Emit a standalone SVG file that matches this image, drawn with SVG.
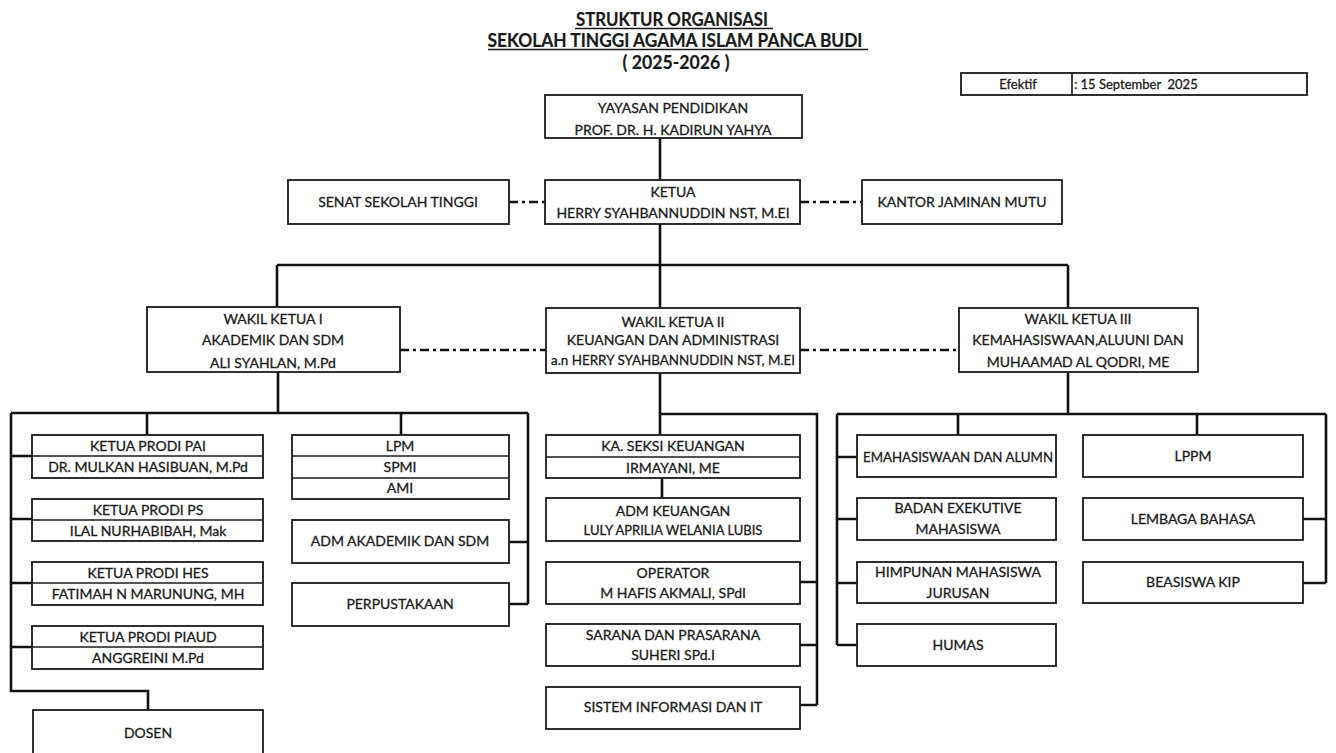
<svg xmlns="http://www.w3.org/2000/svg" width="1336" height="753" viewBox="0 0 1336 753">
<style>
text{font-family:Lato,"Liberation Sans",sans-serif;fill:#1a1a1a;stroke:#1a1a1a;stroke-width:0.3;font-size:14px;text-anchor:middle}
.t{font-weight:bold;font-size:18px;stroke-width:0.2}
.s{font-size:13px}
.box{fill:#fff;stroke:#1a1a1a;stroke-width:1.8}
.div{stroke:#1a1a1a;stroke-width:1.6}
.c{fill:none;stroke:#111;stroke-width:2.6}
.dd{fill:none;stroke:#111;stroke-width:2.6;stroke-dasharray:9 4 3 4}
.ul{stroke:#1a1a1a;stroke-width:1.5}
</style>
<rect width="1336" height="753" fill="#fff"/>
<g id="title">
<text class="t" x="672" y="26" textLength="192" lengthAdjust="spacingAndGlyphs">STRUKTUR ORGANISASI</text>
<line class="ul" x1="575" y1="28.5" x2="773" y2="28.5"/>
<text class="t" x="675" y="47" textLength="375" lengthAdjust="spacingAndGlyphs">SEKOLAH TINGGI AGAMA ISLAM PANCA BUDI</text>
<line class="ul" x1="488" y1="49.5" x2="868" y2="49.5"/>
<text class="t" x="676" y="69" textLength="107" lengthAdjust="spacingAndGlyphs" style="white-space:pre">( 2025-2026 )</text>
</g>
<g id="efektif">
<rect class="box" x="961" y="73" width="346" height="22"/>
<line class="div" x1="1072" y1="73" x2="1072" y2="95"/>
<text class="s" x="1018" y="89">Efektif</text>
<text class="s" x="1074" y="89" style="text-anchor:start;white-space:pre">: 15 September  2025</text>
</g>
<g id="connectors">
<path class="c" d="M660 138V180M660 224V308M277 265H1068M277 265V307M1068 265V308"/>
<path class="dd" d="M509 202H545M800 202H862M400 350H546M800 350H959"/>
<path class="c" d="M278 372V413M11 413H528M147 413V435M401 413V435M528 413V604M509 542H528M509 604H528M11 413V691H148V710M11 456H32M11 519H32M11 583H32M11 647H32"/>
<path class="c" d="M660 373V435M660 414H817V705M800 582H817M800 645H817M800 705H817M662 478V498"/>
<path class="c" d="M1068 372V414M837 414H1326M837 414V645M837 457H857M837 519H857M837 583H857M837 645H857M958 414V435M1197 414V435M1326 414V583M1303 519H1326M1303 583H1326"/>
</g>
<g id="yayasan">
<rect class="box" x="545" y="95" width="257" height="43"/>
<text x="673" y="113">YAYASAN PENDIDIKAN</text>
<text x="673" y="135">PROF. DR. H. KADIRUN YAHYA</text>
</g>
<g id="senat">
<rect class="box" x="288" y="180" width="221" height="44"/>
<text x="398" y="207">SENAT SEKOLAH TINGGI</text>
</g>
<g id="ketua">
<rect class="box" x="545" y="180" width="255" height="44"/>
<text x="673" y="197">KETUA</text>
<text x="673" y="218">HERRY SYAHBANNUDDIN NST, M.EI</text>
</g>
<g id="kantor">
<rect class="box" x="862" y="180" width="200" height="44"/>
<text x="962" y="207">KANTOR JAMINAN MUTU</text>
</g>
<g id="wakil1">
<rect class="box" x="147" y="307" width="253" height="65"/>
<text x="273" y="324">WAKIL KETUA I</text>
<text x="273" y="345">AKADEMIK DAN SDM</text>
<text x="273" y="368">ALI SYAHLAN, M.Pd</text>
</g>
<g id="wakil2">
<rect class="box" x="546" y="308" width="254" height="65"/>
<text x="673" y="327">WAKIL KETUA II</text>
<text x="673" y="345">KEUANGAN DAN ADMINISTRASI</text>
<text x="673" y="365" textLength="244" lengthAdjust="spacingAndGlyphs">a.n HERRY SYAHBANNUDDIN NST, M.EI</text>
</g>
<g id="wakil3">
<rect class="box" x="959" y="308" width="239" height="64"/>
<text x="1078" y="324">WAKIL KETUA III</text>
<text x="1078" y="345">KEMAHASISWAAN,ALUUNI DAN</text>
<text x="1078" y="367">MUHAAMAD AL QODRI, ME</text>
</g>
<g id="prodi-pai">
<rect class="box" x="32" y="435" width="231" height="43"/>
<line class="div" x1="32" y1="456" x2="263" y2="456"/>
<text x="148" y="451">KETUA PRODI PAI</text>
<text x="148" y="472">DR. MULKAN HASIBUAN, M.Pd</text>
</g>
<g id="prodi-ps">
<rect class="box" x="32" y="499" width="231" height="42"/>
<line class="div" x1="32" y1="520" x2="263" y2="520"/>
<text x="148" y="515">KETUA PRODI PS</text>
<text x="148" y="536">ILAL NURHABIBAH, Mak</text>
</g>
<g id="prodi-hes">
<rect class="box" x="32" y="562" width="231" height="43"/>
<line class="div" x1="32" y1="583" x2="263" y2="583"/>
<text x="148" y="578">KETUA PRODI HES</text>
<text x="148" y="599">FATIMAH N MARUNUNG, MH</text>
</g>
<g id="prodi-piaud">
<rect class="box" x="32" y="626" width="231" height="43"/>
<line class="div" x1="32" y1="647" x2="263" y2="647"/>
<text x="148" y="642">KETUA PRODI PIAUD</text>
<text x="148" y="663">ANGGREINI M.Pd</text>
</g>
<g id="dosen">
<rect class="box" x="33" y="710" width="230" height="52"/>
<text x="148" y="738">DOSEN</text>
</g>
<g id="lpm">
<rect class="box" x="292" y="435" width="217" height="64"/>
<line class="div" x1="292" y1="456" x2="509" y2="456"/>
<line class="div" x1="292" y1="478" x2="509" y2="478"/>
<text x="400" y="451">LPM</text>
<text x="400" y="472">SPMI</text>
<text x="400" y="493">AMI</text>
</g>
<g id="adm-akademik">
<rect class="box" x="292" y="520" width="217" height="43"/>
<text x="400" y="546">ADM AKADEMIK DAN SDM</text>
</g>
<g id="perpustakaan">
<rect class="box" x="292" y="583" width="217" height="43"/>
<text x="400" y="609">PERPUSTAKAAN</text>
</g>
<g id="ka-seksi">
<rect class="box" x="546" y="435" width="254" height="43"/>
<line class="div" x1="546" y1="457" x2="800" y2="457"/>
<text x="673" y="451">KA. SEKSI KEUANGAN</text>
<text x="673" y="473">IRMAYANI, ME</text>
</g>
<g id="adm-keuangan">
<rect class="box" x="546" y="498" width="254" height="43"/>
<text x="673" y="516">ADM KEUANGAN</text>
<text class="s" x="673" y="535">LULY APRILIA WELANIA LUBIS</text>
</g>
<g id="operator">
<rect class="box" x="546" y="562" width="254" height="42"/>
<text x="673" y="578">OPERATOR</text>
<text x="673" y="598">M HAFIS AKMALI, SPdI</text>
</g>
<g id="sarana">
<rect class="box" x="546" y="624" width="254" height="42"/>
<text x="673" y="640">SARANA DAN PRASARANA</text>
<text x="673" y="660">SUHERI SPd.I</text>
</g>
<g id="sistem">
<rect class="box" x="546" y="687" width="254" height="42"/>
<text x="673" y="712">SISTEM INFORMASI DAN IT</text>
</g>
<g id="kemahasiswaan">
<rect class="box" x="857" y="435" width="199" height="42"/>
<text x="958" y="462" textLength="190" lengthAdjust="spacingAndGlyphs">EMAHASISWAAN DAN ALUMN</text>
</g>
<g id="bem">
<rect class="box" x="857" y="498" width="199" height="42"/>
<text x="958" y="513">BADAN EXEKUTIVE</text>
<text x="958" y="534">MAHASISWA</text>
</g>
<g id="himpunan">
<rect class="box" x="857" y="562" width="199" height="41"/>
<text x="958" y="577">HIMPUNAN MAHASISWA</text>
<text x="958" y="598">JURUSAN</text>
</g>
<g id="humas">
<rect class="box" x="857" y="624" width="199" height="42"/>
<text x="958" y="650">HUMAS</text>
</g>
<g id="lppm">
<rect class="box" x="1083" y="435" width="220" height="42"/>
<text x="1193" y="461">LPPM</text>
</g>
<g id="lembaga-bahasa">
<rect class="box" x="1083" y="498" width="220" height="42"/>
<text x="1193" y="524">LEMBAGA BAHASA</text>
</g>
<g id="beasiswa">
<rect class="box" x="1083" y="562" width="220" height="41"/>
<text x="1193" y="587">BEASISWA KIP</text>
</g>
</svg>
